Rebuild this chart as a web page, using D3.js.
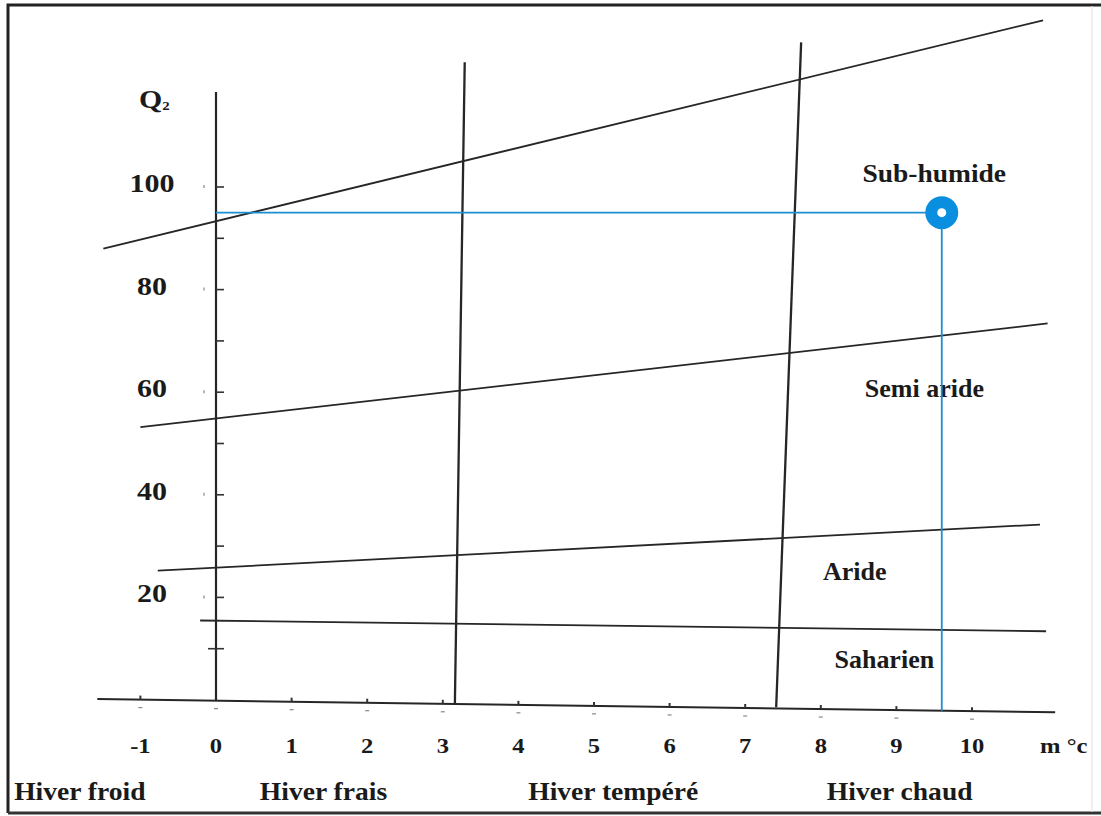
<!DOCTYPE html>
<html>
<head>
<meta charset="utf-8">
<script src="https://cdn.jsdelivr.net/npm/d3@7"></script>
<style>
  html, body { margin: 0; padding: 0; background: #fff; }
  svg { display: block; }
  text { font-family: "Liberation Serif", "Times New Roman", serif; font-weight: bold; fill: #1a1a1a; }
</style>
</head>
<body>
<div id="chart"></div>
<script>
// ---------- data (m °C on x, Q2 on y) ----------
const xTickValues = [-1, 0, 1, 2, 3, 4, 5, 6, 7, 8, 9, 10];
const yTickLabels = [20, 40, 60, 80, 100];
const yMinorTicks = [10, 20, 30, 40, 50, 60, 70, 80, 90, 100];

// bioclimatic boundaries: [m, Q2] end points
const subHumideBoundary = [[-1.49, 88.0], [10.94, 132.5]];
const semiArideBoundary = [[-1.00, 53.2], [11.00, 73.4]];
const arideBoundary     = [[-0.77, 25.2], [10.90, 34.2]];
const saharienBoundary  = [[-0.21, 15.5], [10.98, 13.4]];
const mAxisLine         = [[-1.57, 0.2], [11.10, -2.4]];
const q2AxisLine        = [[0, 0], [0, 118.5]];
// winter variants separations
const winterBoundaries = [
  [[3.16, -0.6], [3.29, 124.3]],
  [[7.41, -1.4], [7.74, 128.2]]
];

const zoneLabels = ["Sub-humide", "Semi aride", "Aride", "Saharien"];
const zoneLabelPos = [[9.5, 101], [9.37, 59.1], [8.45, 23.4], [8.84, 6.2]];
const winterLabels = ["Hiver froid", "Hiver frais", "Hiver tempéré", "Hiver chaud"];
const winterLabelM = [-2.67, 0.58, 4.13, 8.08];

const station = { m: 9.6, q: 95.0 };

// ---------- layout ----------
const W = 1101, H = 816;
const x = d3.scaleLinear().domain([0, 10]).range([216, 972]);
const y = d3.scaleLinear().domain([0, 100]).range([700, 187]);

const svg = d3.select("#chart").append("svg").attr("width", W).attr("height", H);
svg.append("rect").attr("width", W).attr("height", H).attr("fill", "#fff");

// frame
svg.append("path").attr("d", `M8,${H - 3} L8,5 L${W},5`).attr("fill", "none").attr("stroke", "#222").attr("stroke-width", 3);
svg.append("line").attr("x1", 8).attr("x2", W).attr("y1", H - 3).attr("y2", H - 3).attr("stroke", "#333").attr("stroke-width", 3);
svg.append("line").attr("x1", W - 9).attr("x2", W - 9).attr("y1", 6).attr("y2", H - 4).attr("stroke", "#e2e2e2").attr("stroke-width", 1);

const line = d3.line().x(d => x(d[0])).y(d => y(d[1]));
const g = svg.append("g");

// stretched bold serif text helper (the scan is wider than the font)
function stext(sel, tx, ty, size, sx, anchor, str) {
  return sel.append("text")
    .attr("transform", `translate(${tx},${ty}) scale(${sx},1)`)
    .attr("font-size", size).attr("text-anchor", anchor || "start")
    .text(str);
}

// boundaries
[subHumideBoundary, semiArideBoundary, arideBoundary, saharienBoundary].forEach(b => {
  g.append("path").attr("d", line(b)).attr("fill", "none").attr("stroke", "#262626").attr("stroke-width", 1.8);
});
winterBoundaries.forEach(b => {
  g.append("path").attr("d", line(b)).attr("fill", "none").attr("stroke", "#262626").attr("stroke-width", 2.3);
});

// axes
g.append("path").attr("d", line(mAxisLine)).attr("fill", "none").attr("stroke", "#262626").attr("stroke-width", 2);
g.append("path").attr("d", line(q2AxisLine)).attr("fill", "none").attr("stroke", "#262626").attr("stroke-width", 2.2);

// m axis ticks (follow tilted axis)
const axisQ = d3.scaleLinear().domain([mAxisLine[0][0], mAxisLine[1][0]]).range([mAxisLine[0][1], mAxisLine[1][1]]);
g.selectAll(".xt").data(xTickValues.filter(v => v !== 0)).join("line")
  .attr("x1", d => x(d)).attr("x2", d => x(d))
  .attr("y1", d => y(axisQ(d)) - 4).attr("y2", d => y(axisQ(d)))
  .attr("stroke", "#333").attr("stroke-width", 2);
g.selectAll(".xtb").data(xTickValues).join("line")
  .attr("x1", d => x(d) - 2).attr("x2", d => x(d) + 2)
  .attr("y1", d => y(axisQ(d)) + 8).attr("y2", d => y(axisQ(d)) + 8)
  .attr("stroke", "#888").attr("stroke-width", 1.2);

// Q2 axis ticks
g.selectAll(".yt").data(yMinorTicks).join("line")
  .attr("x1", d => x(0) - (d === 10 ? 8 : 0)).attr("x2", x(0) + 8)
  .attr("y1", d => y(d)).attr("y2", d => y(d))
  .attr("stroke", "#333").attr("stroke-width", 1.6);
g.selectAll(".ytl").data(yTickLabels).join("line")
  .attr("x1", x(0) - 12).attr("x2", x(0) - 12)
  .attr("y1", d => y(d) - 2).attr("y2", d => y(d) + 1)
  .attr("stroke", "#999").attr("stroke-width", 1.4);

// tick labels
xTickValues.forEach(v => stext(g, x(v), 753, 22, 1.12, "middle", v));
stext(g, 1040, 753, 22, 1.12, "start", "m °c");

yTickLabels.forEach(v => stext(g, 152, y(v) + 5, 25, 1.2, "middle", v));

const q = g.append("text").attr("transform", "translate(139,108) scale(1.15,1)").attr("font-size", 26);
q.append("tspan").text("Q");
q.append("tspan").attr("font-size", 13).attr("dy", 2).text("2");

// zone labels
zoneLabels.forEach((t, i) => stext(g, x(zoneLabelPos[i][0]), y(zoneLabelPos[i][1]), 25, i === 0 ? 1.1 : 1.04, "middle", t));

// winter labels
winterLabels.forEach((t, i) => stext(g, x(winterLabelM[i]), 800, 26, 1.06, "start", t));

// station
const blue = "#1a8fd2";
g.append("path").attr("d", line([[0, station.q], [station.m, station.q]]))
  .attr("stroke", blue).attr("stroke-width", 1.8).attr("fill", "none");
g.append("path").attr("d", line([[station.m, station.q], [station.m, axisQ(station.m)]]))
  .attr("stroke", blue).attr("stroke-width", 1.8).attr("fill", "none");
g.append("circle").attr("cx", x(station.m)).attr("cy", y(station.q)).attr("r", 16.5).attr("fill", "#0a8fe0");
g.append("circle").attr("cx", x(station.m)).attr("cy", y(station.q)).attr("r", 4.5).attr("fill", "#fff");
</script>
</body>
</html>
